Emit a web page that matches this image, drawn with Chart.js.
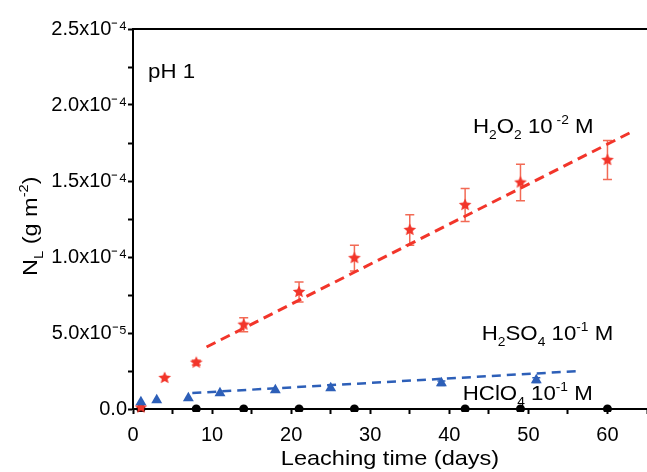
<!DOCTYPE html>
<html><head><meta charset="utf-8">
<script src="https://cdn.jsdelivr.net/npm/chart.js@4.4.0/dist/chart.umd.min.js"></script>
<style>html,body{margin:0;padding:0;background:#fff;} #wrap{width:647px;height:472px;position:relative;} canvas{display:block;}</style>
</head><body><div id="wrap"><canvas id="c" width="647" height="472" style="width:647px;height:472px;"></canvas></div>
<script>
// ---- data ----
const h2o2Days   = [1, 4, 8, 14, 21, 28, 35, 42, 49, 60];
const h2o2Values = [1.0e-6, 2.04e-5, 3.05e-5, 5.55e-5, 7.7e-5, 9.93e-5, 1.178e-4, 1.342e-4, 1.49e-4, 1.638e-4];
const h2o2Errors = [0, 0, 1.5e-6, 4.6e-6, 6.6e-6, 8.5e-6, 1.0e-5, 1.08e-5, 1.2e-5, 1.28e-5];
const h2so4Days   = [1, 3, 7, 11, 18, 25, 39, 51];
const h2so4Values = [4.6e-6, 5.9e-6, 7.2e-6, 1.05e-5, 1.25e-5, 1.38e-5, 1.7e-5, 1.9e-5];
const h2so4Errors = [0, 0, 0, 0, 0, 0, 1.5e-6, 1.5e-6];
const hclo4Days   = [1, 8, 14, 21, 28, 42, 49, 60];
const hclo4Values = [0, 0, 0, 0, 0, 0, 0, 0];
const h2o2FitDays    = [9.3, 62.8];
const h2o2FitValues  = [4.08e-5, 1.816e-4];
const h2so4FitDays   = [7.5, 56.4];
const h2so4FitValues = [1.05e-5, 2.5e-5];
const xTickLabels = ['0', '10', '20', '30', '40', '50', '60'];
const yTickLabels = ['0.0', '5.0x10\u207B\u2075', '1.0x10\u207B\u2074', '1.5x10\u207B\u2074', '2.0x10\u207B\u2074', '2.5x10\u207B\u2074'];

const FONT = '"Liberation Sans", Arial, Helvetica, sans-serif';
const RED = '#f2352a', RED_ERR = '#f26a55', BLUE = '#2d5fb8';

function pts(xs, ys) { return xs.map((x, i) => ({ x: x, y: ys[i] })); }

function makeStar(r, color) {
  const s = Math.ceil(r * 2 + 2);
  const c = document.createElement('canvas'); c.width = s; c.height = s;
  const g = c.getContext('2d'); g.fillStyle = color; g.beginPath();
  for (let i = 0; i < 10; i++) {
    const rad = (i % 2) ? r * 0.47 : r;
    const a = -Math.PI / 2 + i * Math.PI / 5;
    g.lineTo(s / 2 + rad * Math.cos(a), s / 2 + rad * Math.sin(a));
  }
  g.closePath(); g.fill();
  return c;
}
const starImg = makeStar(6.6, RED);

function drawRich(ctx, parts, size, sx) {
  ctx.save(); ctx.scale(sx, 1);
  let cx = 0;
  ctx.textBaseline = 'alphabetic'; ctx.textAlign = 'left'; ctx.fillStyle = '#000';
  for (const p of parts) {
    const fs = p.s ? size * 0.62 : size;
    ctx.font = fs + 'px ' + FONT;
    const dy = p.s === 'sub' ? size * 0.27 : (p.s === 'sup' ? -size * 0.45 : 0);
    ctx.fillText(p.t, cx, dy);
    cx += ctx.measureText(p.t).width;
  }
  ctx.restore();
}

const annotations = [
  { x: 1.9,  y: 2.178e-4, parts: [{ t: 'pH 1' }] },
  { x: 43.0, y: 1.816e-4, parts: [{ t: 'H' }, { t: '2', s: 'sub' }, { t: 'O' }, { t: '2', s: 'sub' }, { t: ' 10' }, { t: ' -2', s: 'sup' }, { t: ' M' }] },
  { x: 44.1, y: 4.54e-5,  parts: [{ t: 'H' }, { t: '2', s: 'sub' }, { t: 'SO' }, { t: '4', s: 'sub' }, { t: ' 10' }, { t: '-1', s: 'sup' }, { t: ' M' }] },
  { x: 41.7, y: 5.9e-6,   parts: [{ t: 'HClO' }, { t: '4', s: 'sub' }, { t: ' 10' }, { t: '-1', s: 'sup' }, { t: ' M' }] }
];

const decor = {
  id: 'decor',
  beforeDatasetsDraw(chart) {
    const ctx = chart.ctx, xs = chart.scales.x, ys = chart.scales.y;
    const bars = (days, vals, errs, color, cap) => {
      ctx.save(); ctx.strokeStyle = color; ctx.lineWidth = 1.5;
      days.forEach((d, i) => {
        if (!errs[i]) return;
        const px = xs.getPixelForValue(d);
        const t = ys.getPixelForValue(vals[i] + errs[i]);
        const b = ys.getPixelForValue(vals[i] - errs[i]);
        ctx.beginPath();
        ctx.moveTo(px, t); ctx.lineTo(px, b);
        ctx.moveTo(px - cap, t); ctx.lineTo(px + cap, t);
        ctx.moveTo(px - cap, b); ctx.lineTo(px + cap, b);
        ctx.stroke();
      });
      ctx.restore();
    };
    bars(h2o2Days, h2o2Values, h2o2Errors, RED_ERR, 4.5);
    bars(h2so4Days, h2so4Values, h2so4Errors, BLUE, 4);
  },
  afterDraw(chart) {
    const ctx = chart.ctx, xs = chart.scales.x, ys = chart.scales.y, ca = chart.chartArea;
    ctx.save(); ctx.strokeStyle = '#000'; ctx.lineWidth = 2;
    ctx.beginPath(); ctx.moveTo(ca.left - 1, ca.top); ctx.lineTo(chart.width, ca.top); ctx.stroke();
    ctx.restore();
    annotations.forEach(a => {
      ctx.save();
      ctx.translate(xs.getPixelForValue(a.x), ys.getPixelForValue(a.y));
      drawRich(ctx, a.parts, 21, 1.06);
      ctx.restore();
    });
    ctx.save();
    ctx.translate(37, 276); ctx.rotate(-Math.PI / 2);
    drawRich(ctx, [{ t: 'N' }, { t: 'L', s: 'sub' }, { t: ' (g m' }, { t: '-2', s: 'sup' }, { t: ')' }], 21, 1.12);
    ctx.restore();
    ctx.save();
    ctx.font = '21px ' + FONT; ctx.fillStyle = '#000';
    const txt = 'Leaching time (days)';
    const w = ctx.measureText(txt).width * 1.12;
    ctx.translate((ca.left + ca.right) / 2 - w / 2, 465); ctx.scale(1.12, 1);
    ctx.textBaseline = 'alphabetic'; ctx.fillText(txt, 0, 0);
    ctx.restore();
  }
};

new Chart(document.getElementById('c'), {
  type: 'scatter',
  data: {
    datasets: [
      { label: 'H2O2 fit', type: 'line', data: pts(h2o2FitDays, h2o2FitValues), borderColor: RED, borderWidth: 3, borderDash: [10, 6], pointRadius: 0, fill: false, order: 5 },
      { label: 'H2SO4 fit', type: 'line', data: pts(h2so4FitDays, h2so4FitValues), borderColor: BLUE, borderWidth: 2.5, borderDash: [9, 6], pointRadius: 0, fill: false, order: 5 },
      { label: 'HClO4', data: pts(hclo4Days, hclo4Values), pointStyle: 'circle', pointRadius: 4.5, backgroundColor: '#000', borderColor: '#000', borderWidth: 0, clip: 3, order: 3 },
      { label: 'H2O2', data: pts(h2o2Days, h2o2Values), pointStyle: starImg, pointRadius: 6, backgroundColor: RED, borderColor: RED, clip: 6, order: 2 },
      { label: 'H2SO4', data: pts(h2so4Days, h2so4Values), pointStyle: 'triangle', pointRadius: 6.3, backgroundColor: BLUE, borderColor: BLUE, borderWidth: 0, clip: 6, order: 1 }
    ]
  },
  options: {
    responsive: false, animation: false, devicePixelRatio: 1,
    layout: { autoPadding: false, padding: { top: 29, right: 0, bottom: 0, left: 0 } },
    plugins: { legend: { display: false }, tooltip: { enabled: false } },
    scales: {
      x: {
        type: 'linear', min: 0, max: 65,
        border: { display: true, color: '#000', width: 2 },
        grid: { drawOnChartArea: false, drawTicks: true, tickLength: 5, tickWidth: 2, tickColor: '#000' },
        ticks: { stepSize: 5, autoSkip: false, maxRotation: 0, color: '#000', padding: 9, font: { family: FONT, size: 20 },
          callback: v => { const k = Math.round(v / 5); return k % 2 === 0 ? (xTickLabels[k / 2] || '') : ''; } },
        afterFit: s => { s.height = 63; s.paddingRight = 0; s.paddingLeft = 0; }
      },
      y: {
        type: 'linear', min: 0, max: 2.5e-4,
        border: { display: true, color: '#000', width: 2 },
        grid: { drawOnChartArea: false, drawTicks: true, tickLength: 5, tickWidth: 2, tickColor: '#000' },
        ticks: { stepSize: 2.5e-5, autoSkip: false, color: '#000', padding: 1, font: { family: FONT, size: 20 },
          callback: v => { const k = Math.round(v / 2.5e-5); return k % 2 === 0 ? (yTickLabels[k / 2] || '') : ''; } },
        afterFit: s => { s.width = 133; }
      }
    }
  },
  plugins: [decor]
});
</script>
</body></html>
